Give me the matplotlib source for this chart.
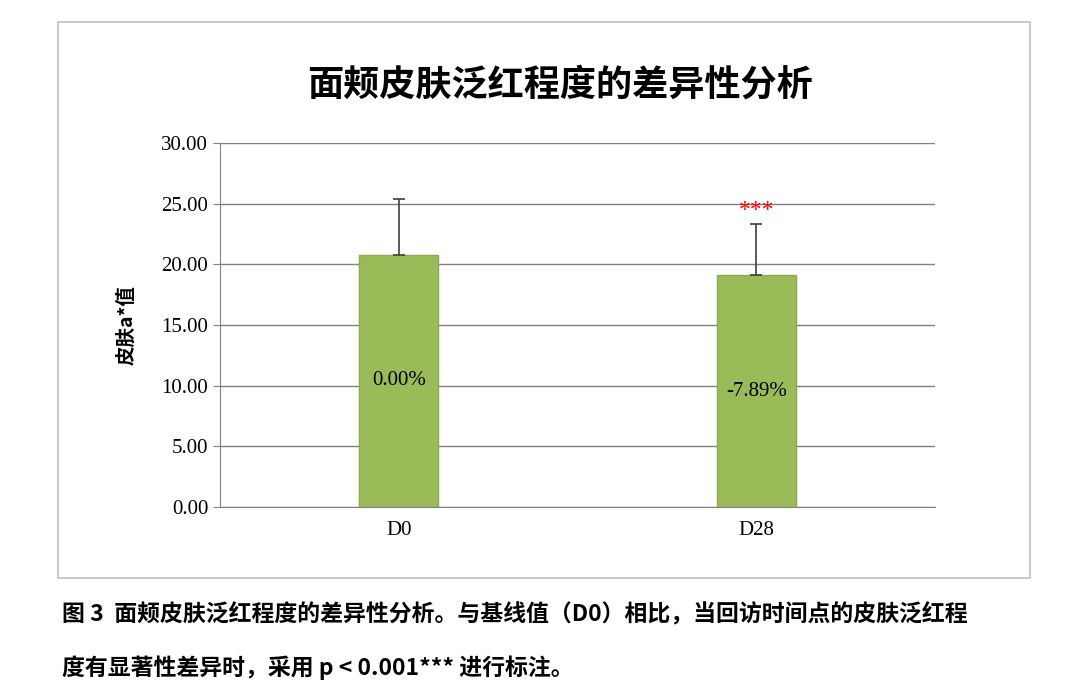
import matplotlib
matplotlib.use("Agg")
import matplotlib.pyplot as plt
from matplotlib.patches import Rectangle

categories = ["D0", "D28"]
values = [20.8, 19.1]
errors = [4.6, 4.2]
labels = ["0.00%", "-7.89%"]
label_y = [10.4, 9.5]
stars = ["", "***"]
yticks = [0, 5, 10, 15, 20, 25, 30]

cjk = ["Noto Sans CJK SC", "DejaVu Sans"]
serif = ["Liberation Serif", "DejaVu Serif"]

fig = plt.figure(figsize=(10.8, 7), dpi=100)
fig.patches.append(Rectangle((58/1080, 1-578/700), 972/1080, 556/700, transform=fig.transFigure,
                             fill=False, edgecolor="#bfbfbf", linewidth=1.2))
ax = fig.add_axes([220/1080, 1-507/700, 715/1080, 364/700])
x = range(len(categories))
ax.bar(x, values, width=0.22, color="#9bbb59", edgecolor="#8aaa4a", zorder=3,
       yerr=[[0, 0], errors], error_kw=dict(ecolor="#404040", capsize=4, elinewidth=1.2, capthick=1.2))
for i in x:
    ax.text(i, label_y[i], labels[i], ha="center", va="center", fontsize=15, family=serif, zorder=4)
    if stars[i]:
        ax.text(i, values[i] + errors[i] + 0.3, stars[i], ha="center", va="bottom", color="red",
                fontsize=17, family=serif, zorder=4)
ax.set_xlim(-0.5, 1.5)
ax.set_ylim(0, 30)
ax.set_yticks(yticks)
ax.set_yticklabels([f"{v:.2f}" for v in yticks], family=serif, fontsize=15)
ax.set_xticks(list(x))
ax.set_xticklabels(categories, family=serif, fontsize=15)
ax.grid(axis="y", color="#808080", linewidth=1, zorder=0)
for s in ["top", "right"]:
    ax.spines[s].set_visible(False)
ax.spines["left"].set_color("#808080")
ax.spines["bottom"].set_color("#808080")
ax.tick_params(axis="both", color="#808080", length=5)
ax.tick_params(axis="x", length=0, pad=10)
ax.set_ylabel("皮肤a*值", family=cjk, fontsize=14, fontweight="bold", labelpad=18)

fig.text(560/1080, 1-85/700, "面颊皮肤泛红程度的差异性分析", ha="center", va="center",
         family=cjk, fontsize=26, fontweight="bold")
fig.text(62/1080, 1-615/700, "图 3  面颊皮肤泛红程度的差异性分析。与基线值（D0）相比，当回访时间点的皮肤泛红程",
         ha="left", va="center", family=cjk, fontsize=16.5, fontweight="bold")
fig.text(62/1080, 1-668/700, "度有显著性差异时，采用 p < 0.001*** 进行标注。",
         ha="left", va="center", family=cjk, fontsize=16.5, fontweight="bold")
fig.savefig("out.png", dpi=100)
